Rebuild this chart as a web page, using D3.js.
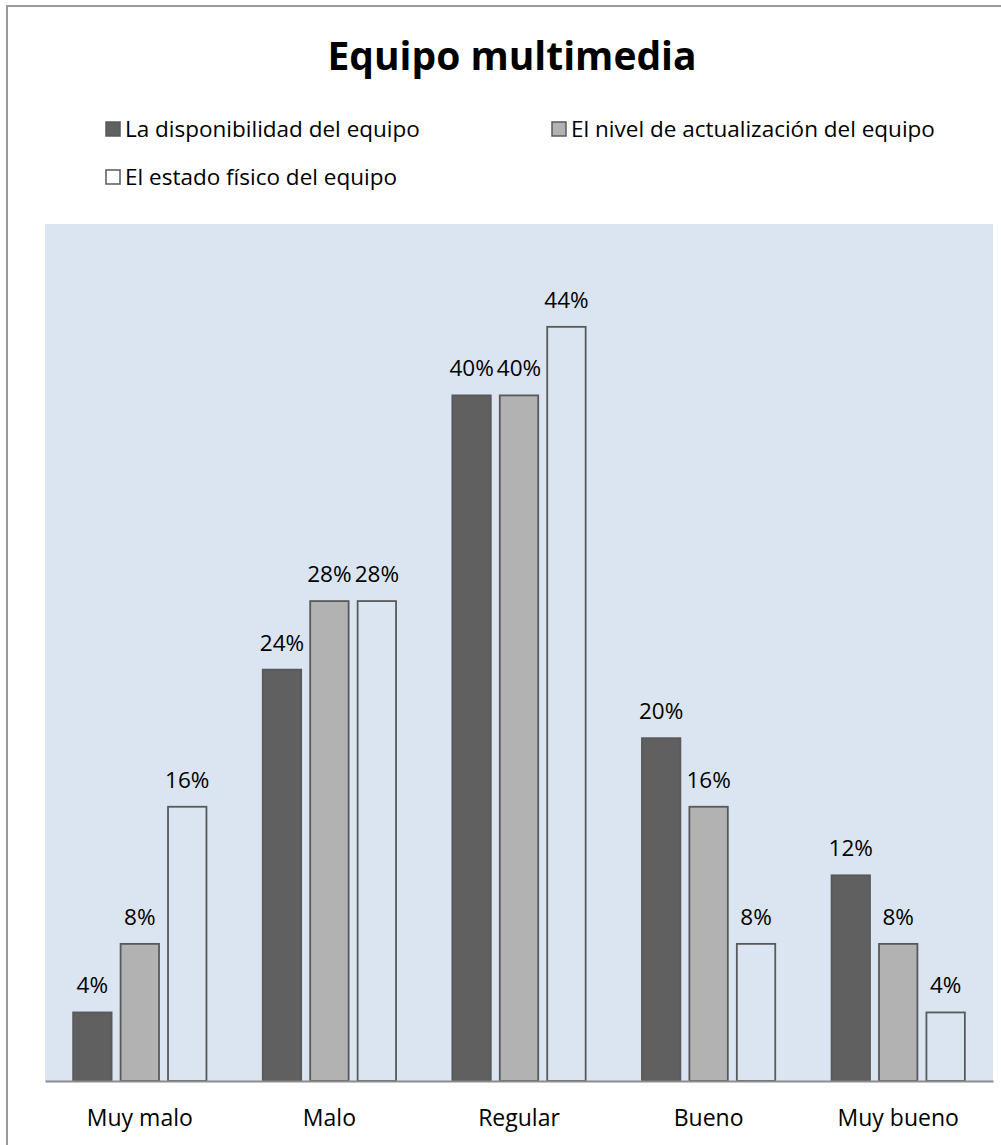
<!DOCTYPE html>
<html>
<head>
<meta charset="utf-8">
<script src="https://cdn.jsdelivr.net/npm/d3@7"></script>
<style>
  body { margin: 0; background: #ffffff; }
  text { font-family: "Open Sans", sans-serif; fill: #000000; }
</style>
</head>
<body>
<div class="grafico"></div>
<script>
var categorias = ["Muy malo", "Malo", "Regular", "Bueno", "Muy bueno"];
var series = ["La disponibilidad del equipo", "El nivel de actualización del equipo", "El estado físico del equipo"];
var disponibilidad = [4, 24, 40, 20, 12];
var actualizacion = [8, 28, 40, 16, 8];
var estadoFisico = [16, 28, 44, 8, 4];
var valores = [disponibilidad, actualizacion, estadoFisico];
var colores = ["#606060", "#b2b2b2", "none"];

var svg = d3
  .select('.grafico')
  .append('svg')
  .attr('width', 1001)
  .attr('height', 1145);

// marco exterior (solo se ven los bordes izquierdo y superior)
svg.append('rect')
  .attr('x', 7)
  .attr('y', 6)
  .attr('width', 1010)
  .attr('height', 1160)
  .attr('fill', 'none')
  .attr('stroke', '#999999')
  .attr('stroke-width', 2);

svg.append('text')
  .attr('x', 512)
  .attr('y', 70)
  .attr('text-anchor', 'middle')
  .style('font-size', '39px')
  .style('font-weight', 'bold')
  .text('Equipo multimedia');

// leyenda
var posLeyenda = [[106, 122], [552, 122], [106, 170]];
series.forEach(function (s, i) {
  svg.append('rect')
    .attr('x', posLeyenda[i][0])
    .attr('y', posLeyenda[i][1])
    .attr('width', 14)
    .attr('height', 14)
    .attr('fill', colores[i] === 'none' ? '#ffffff' : colores[i])
    .attr('stroke', '#595959')
    .attr('stroke-width', 1.5);
  svg.append('text')
    .attr('x', posLeyenda[i][0] + 19)
    .attr('y', posLeyenda[i][1] + 15)
    .style('font-size', '22.5px')
    .text(s);
});

var izq = 45, der = 993, arriba = 224, abajo = 1081;

svg.append('rect')
  .attr('x', izq)
  .attr('y', arriba)
  .attr('width', der - izq)
  .attr('height', abajo - arriba)
  .attr('fill', '#dbe5f1');

const xScale = d3.scaleBand()
  .domain(categorias)
  .range([izq, der]);

const xSub = d3.scaleBand()
  .domain(d3.range(series.length))
  .range([0, xScale.bandwidth() * 0.703])
  .paddingInner(0.19);

const desplaz = (xScale.bandwidth() - xScale.bandwidth() * 0.703) / 2;

const yScale = d3.scaleLinear()
  .domain([0, 50])
  .range([abajo, arriba]);

var grupos = svg.selectAll('.grupo')
  .data(categorias)
  .enter()
  .append('g')
  .attr('class', 'grupo')
  .attr('transform', function (d) {
    return 'translate(' + (xScale(d) + desplaz) + ',0)';
  });

grupos.selectAll('rect')
  .data(function (d, ci) {
    return valores.map(function (v, si) { return { s: si, v: v[ci] }; });
  })
  .enter()
  .append('rect')
  .attr('x', function (d) { return xSub(d.s); })
  .attr('y', function (d) { return yScale(d.v); })
  .attr('width', xSub.bandwidth())
  .attr('height', function (d) { return abajo - yScale(d.v); })
  .attr('fill', function (d) { return colores[d.s]; })
  .attr('stroke', '#595959')
  .attr('stroke-width', 1.8);

grupos.selectAll('text')
  .data(function (d, ci) {
    return valores.map(function (v, si) { return { s: si, v: v[ci] }; });
  })
  .enter()
  .append('text')
  .attr('x', function (d) { return xSub(d.s) + xSub.bandwidth() / 2; })
  .attr('y', function (d) { return yScale(d.v) - 19; })
  .attr('text-anchor', 'middle')
  .style('font-size', '22.5px')
  .text(function (d) { return d.v + '%'; });

const xAxis = d3.axisBottom(xScale).tickSize(0).tickPadding(29);

var eje = svg.append('g')
  .attr('transform', 'translate(0,' + abajo + ')')
  .call(xAxis);

eje.select('.domain')
  .attr('stroke', '#8c8c8c')
  .attr('stroke-width', 2);

eje.selectAll('text')
  .style('font-size', '23px')
  .style('font-family', '"Open Sans", sans-serif')
  .attr('fill', '#000000');
</script>
</body>
</html>
